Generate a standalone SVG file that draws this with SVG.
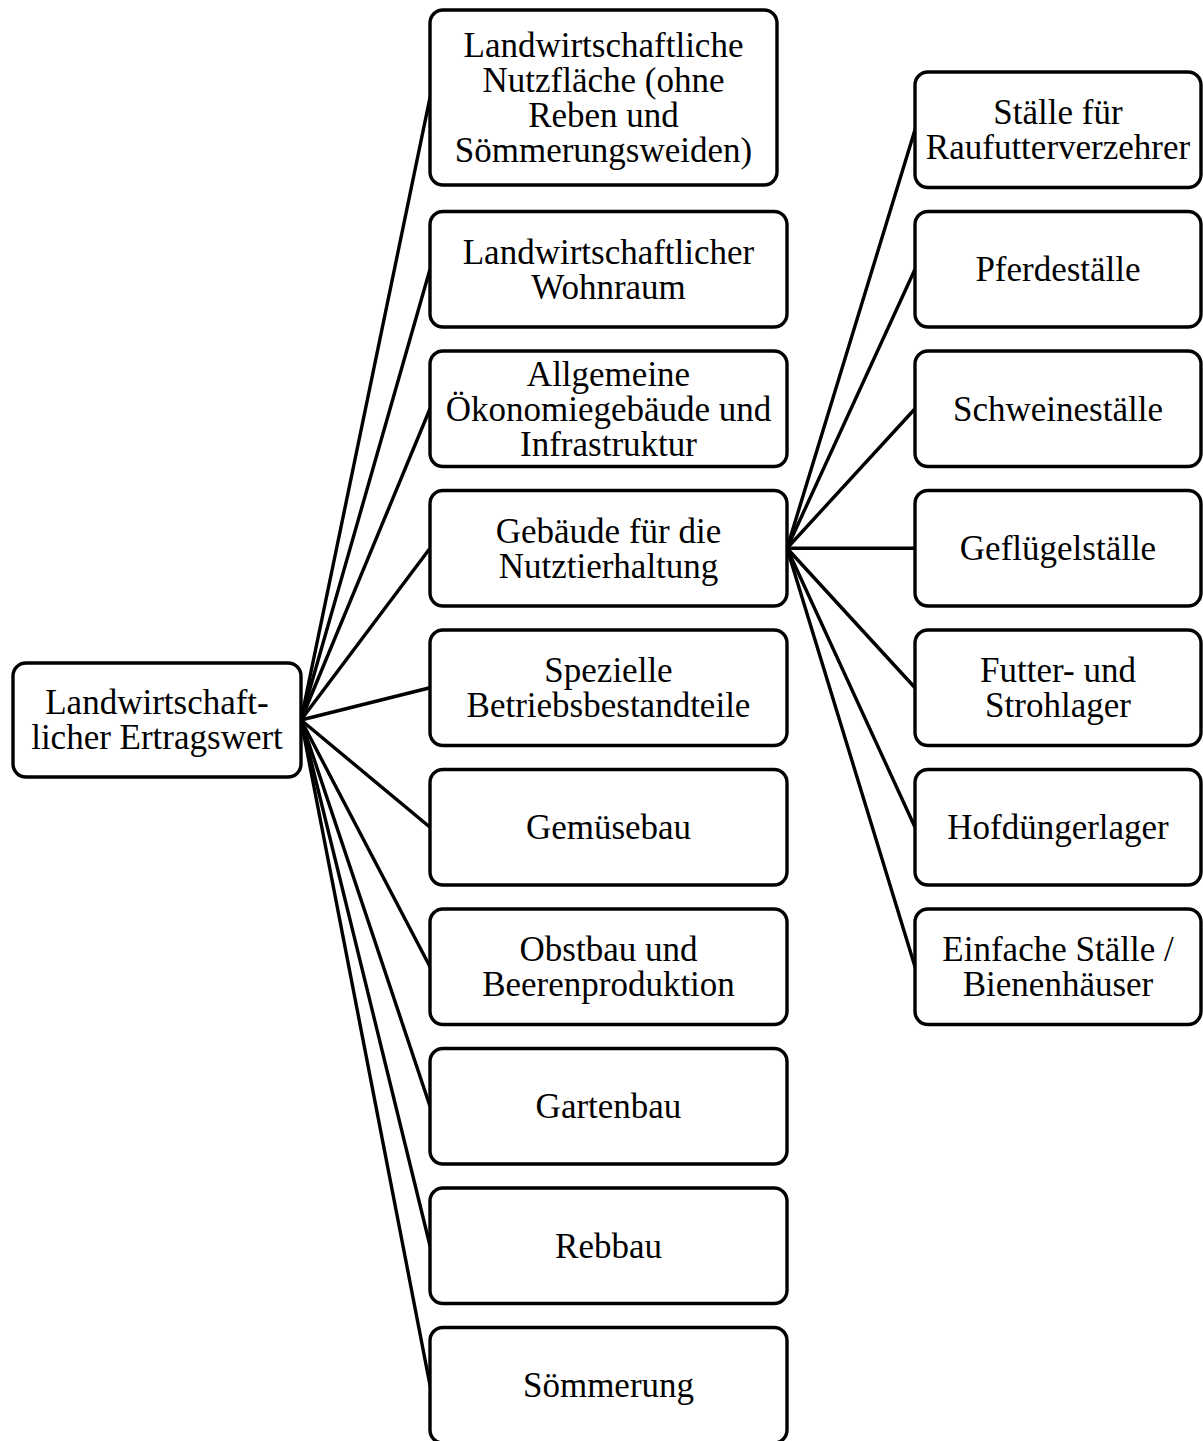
<svg xmlns="http://www.w3.org/2000/svg" width="1203" height="1441" viewBox="0 0 1203 1441">
<style>
.box{fill:#fff;stroke:#000;stroke-width:3.4}
.t{font-family:"Liberation Serif","Times New Roman",serif;font-size:35px;fill:#000;text-anchor:middle}
.c{stroke:#000;stroke-width:3.4;fill:none;stroke-linecap:round}
</style>
<rect width="1203" height="1441" fill="#fff"/>
<g id="connectors">
<line class="c" x1="301" y1="720" x2="430" y2="97.5"/>
<line class="c" x1="301" y1="720" x2="430" y2="269.25"/>
<line class="c" x1="301" y1="720" x2="430" y2="408.75"/>
<line class="c" x1="301" y1="720" x2="430" y2="548.25"/>
<line class="c" x1="301" y1="720" x2="430" y2="687.75"/>
<line class="c" x1="301" y1="720" x2="430" y2="827.25"/>
<line class="c" x1="301" y1="720" x2="430" y2="966.75"/>
<line class="c" x1="301" y1="720" x2="430" y2="1106.25"/>
<line class="c" x1="301" y1="720" x2="430" y2="1245.75"/>
<line class="c" x1="301" y1="720" x2="430" y2="1385.25"/>
<line class="c" x1="787" y1="548.25" x2="915" y2="129.75"/>
<line class="c" x1="787" y1="548.25" x2="915" y2="269.25"/>
<line class="c" x1="787" y1="548.25" x2="915" y2="408.75"/>
<line class="c" x1="787" y1="548.25" x2="915" y2="548.25"/>
<line class="c" x1="787" y1="548.25" x2="915" y2="687.75"/>
<line class="c" x1="787" y1="548.25" x2="915" y2="827.25"/>
<line class="c" x1="787" y1="548.25" x2="915" y2="966.75"/>
</g>
<g id="root">
<rect class="box" x="13" y="663" width="288" height="114" rx="13"/>
<text class="t" x="157" y="714.3">Landwirtschaft-<tspan x="157" dy="35">licher Ertragswert</tspan></text>
</g>
<g id="n1">
<rect class="box" x="430" y="10" width="347" height="175" rx="13"/>
<text class="t" x="603.5" y="56.8">Landwirtschaftliche<tspan x="603.5" dy="35">Nutzfläche (ohne</tspan><tspan x="603.5" dy="35">Reben und</tspan><tspan x="603.5" dy="35">Sömmerungsweiden)</tspan></text>
</g>
<g id="n2">
<rect class="box" x="430" y="211.5" width="357" height="115.5" rx="13"/>
<text class="t" x="608.5" y="263.5">Landwirtschaftlicher<tspan x="608.5" dy="35">Wohnraum</tspan></text>
</g>
<g id="n3">
<rect class="box" x="430" y="351" width="357" height="115.5" rx="13"/>
<text class="t" x="608.5" y="385.5">Allgemeine<tspan x="608.5" dy="35">Ökonomiegebäude und</tspan><tspan x="608.5" dy="35">Infrastruktur</tspan></text>
</g>
<g id="n4">
<rect class="box" x="430" y="490.5" width="357" height="115.5" rx="13"/>
<text class="t" x="608.5" y="542.5">Gebäude für die<tspan x="608.5" dy="35">Nutztierhaltung</tspan></text>
</g>
<g id="n5">
<rect class="box" x="430" y="630" width="357" height="115.5" rx="13"/>
<text class="t" x="608.5" y="682">Spezielle<tspan x="608.5" dy="35">Betriebsbestandteile</tspan></text>
</g>
<g id="n6">
<rect class="box" x="430" y="769.5" width="357" height="115.5" rx="13"/>
<text class="t" x="608.5" y="839">Gemüsebau</text>
</g>
<g id="n7">
<rect class="box" x="430" y="909" width="357" height="115.5" rx="13"/>
<text class="t" x="608.5" y="961">Obstbau und<tspan x="608.5" dy="35">Beerenproduktion</tspan></text>
</g>
<g id="n8">
<rect class="box" x="430" y="1048.5" width="357" height="115.5" rx="13"/>
<text class="t" x="608.5" y="1118">Gartenbau</text>
</g>
<g id="n9">
<rect class="box" x="430" y="1188" width="357" height="115.5" rx="13"/>
<text class="t" x="608.5" y="1257.5">Rebbau</text>
</g>
<g id="n10">
<rect class="box" x="430" y="1327.5" width="357" height="115.5" rx="13"/>
<text class="t" x="608.5" y="1397">Sömmerung</text>
</g>
<g id="r1">
<rect class="box" x="915" y="72" width="286" height="115.5" rx="13"/>
<text class="t" x="1058" y="124">Ställe für<tspan x="1058" dy="35">Raufutterverzehrer</tspan></text>
</g>
<g id="r2">
<rect class="box" x="915" y="211.5" width="286" height="115.5" rx="13"/>
<text class="t" x="1058" y="281">Pferdeställe</text>
</g>
<g id="r3">
<rect class="box" x="915" y="351" width="286" height="115.5" rx="13"/>
<text class="t" x="1058" y="420.5">Schweineställe</text>
</g>
<g id="r4">
<rect class="box" x="915" y="490.5" width="286" height="115.5" rx="13"/>
<text class="t" x="1058" y="560">Geflügelställe</text>
</g>
<g id="r5">
<rect class="box" x="915" y="630" width="286" height="115.5" rx="13"/>
<text class="t" x="1058" y="682">Futter- und<tspan x="1058" dy="35">Strohlager</tspan></text>
</g>
<g id="r6">
<rect class="box" x="915" y="769.5" width="286" height="115.5" rx="13"/>
<text class="t" x="1058" y="839">Hofdüngerlager</text>
</g>
<g id="r7">
<rect class="box" x="915" y="909" width="286" height="115.5" rx="13"/>
<text class="t" x="1058" y="961">Einfache Ställe /<tspan x="1058" dy="35">Bienenhäuser</tspan></text>
</g>
</svg>
